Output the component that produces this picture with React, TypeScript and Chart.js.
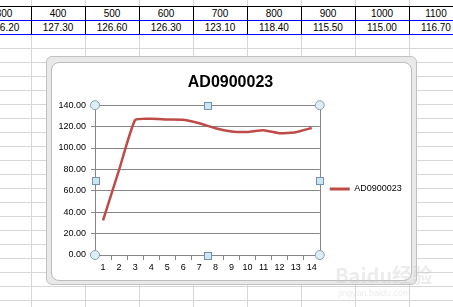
import React, { useEffect, useRef } from "react";
import { Chart, registerables } from "chart.js";

Chart.register(...registerables);

// ---- data ----
const categories = ["1", "2", "3", "4", "5", "6", "7", "8", "9", "10", "11", "12", "13", "14"];
const seriesName = "AD0900023";
const seriesValues = [32.4, 79.5, 126.2, 127.3, 126.6, 126.3, 123.1, 118.4, 115.5, 115.0, 116.7, 113.8, 114.7, 118.7];
const yMin = 0;
const yMax = 140;
const yStep = 20;
const sheetHeaders = ["300", "400", "500", "600", "700", "800", "900", "1000", "1100"];
const sheetValues = ["126.20", "127.30", "126.60", "126.30", "123.10", "118.40", "115.50", "115.00", "116.70"];

const LINE_COLOR = "#BE4B48";
const AXIS_GRAY = "#868686";

const handlesPlugin = {
  id: "selectionHandles",
  afterDraw(chart: any) {
    const { ctx, chartArea: a } = chart;
    ctx.save();
    ctx.strokeStyle = AXIS_GRAY;
    ctx.lineWidth = 1;
    const rx = Math.round(a.right) + 0.5;
    ctx.beginPath();
    ctx.moveTo(rx, a.top);
    ctx.lineTo(rx, a.bottom);
    ctx.stroke();
    const mx = (a.left + a.right) / 2;
    const my = (a.top + a.bottom) / 2;
    const circles = [
      [a.left, a.top],
      [a.right, a.top],
      [a.left, a.bottom],
      [a.right, a.bottom],
    ];
    circles.forEach(([x, y]) => {
      ctx.beginPath();
      ctx.arc(x, y, 4.5, 0, Math.PI * 2);
      ctx.fillStyle = "#DCEFF3";
      ctx.fill();
      ctx.strokeStyle = "#8A9FAE";
      ctx.stroke();
    });
    const squares = [
      [mx, a.top],
      [mx, a.bottom],
      [a.left, my],
      [a.right, my],
    ];
    squares.forEach(([x, y]) => {
      const s = 7;
      const x0 = Math.round(x - s / 2) + 0.5;
      const y0 = Math.round(y - s / 2) + 0.5;
      ctx.fillStyle = "#CDE4F2";
      ctx.fillRect(x0, y0, s, s);
      ctx.strokeStyle = "#6F93B6";
      ctx.strokeRect(x0, y0, s, s);
    });
    ctx.restore();
  },
};

function ChartCanvas() {
  const ref = useRef<HTMLCanvasElement | null>(null);
  useEffect(() => {
    if (!ref.current) return;
    const chart = new Chart(ref.current, {
      type: "line",
      data: {
        labels: categories,
        datasets: [
          {
            label: seriesName,
            data: seriesValues,
            borderColor: LINE_COLOR,
            backgroundColor: LINE_COLOR,
            borderWidth: 2.5,
            pointRadius: 0,
            tension: 0.15,
            fill: false,
          },
        ],
      },
      options: {
        animation: false,
        responsive: false,
        devicePixelRatio: 1,
        layout: { padding: { left: 0, right: 2, top: 0, bottom: 0 } },
        plugins: {
          title: {
            display: true,
            text: seriesName,
            color: "#000",
            font: { family: "'Liberation Sans', Arial, sans-serif", size: 16, weight: "bold" },
            padding: { top: 10, bottom: 13 },
          },
          legend: {
            position: "right",
            title: {
              display: true,
              text: " ",
              font: { size: 9 },
              padding: { top: 0, bottom: 24 },
            },
            labels: {
              boxWidth: 20,
              boxHeight: 3,
              padding: 10,
              color: "#000",
              font: { family: "'Liberation Sans', Arial, sans-serif", size: 9 },
              generateLabels: (c: any) =>
                c.data.datasets.map((d: any, i: number) => ({
                  text: d.label,
                  fillStyle: d.borderColor,
                  strokeStyle: d.borderColor,
                  fontColor: "#000",
                  lineWidth: 0,
                  datasetIndex: i,
                  hidden: false,
                })),
            },
          },
          tooltip: { enabled: false },
        },
        scales: {
          x: {
            offset: true,
            grid: {
              offset: true,
              drawOnChartArea: false,
              drawTicks: true,
              tickLength: 5,
              color: AXIS_GRAY,
            },
            border: { color: AXIS_GRAY, width: 1 },
            ticks: {
              color: "#000",
              padding: 2,
              maxRotation: 0,
              autoSkip: false,
              font: { family: "'Liberation Sans', Arial, sans-serif", size: 9 },
            },
            afterFit: (s: any) => {
              s.height = 25;
            },
          },
          y: {
            min: yMin,
            max: yMax,
            grid: {
              color: AXIS_GRAY,
              drawTicks: true,
              tickLength: 4,
            },
            border: { color: AXIS_GRAY, width: 1 },
            ticks: {
              stepSize: yStep,
              color: "#000",
              padding: 5,
              font: { family: "'Liberation Sans', Arial, sans-serif", size: 9 },
              callback: (v: any) => Number(v).toFixed(2),
            },
            afterFit: (s: any) => {
              s.width = 43;
            },
          },
        },
      },
      plugins: [handlesPlugin],
    } as any);
    return () => chart.destroy();
  }, []);
  return (
    <canvas
      ref={ref}
      width={359}
      height={217}
      style={{ position: "absolute", left: 52, top: 63, width: 359, height: 217 }}
    />
  );
}

export default function App() {
  const colLines: number[] = [];
  for (let k = 0; k < 8; k++) colLines.push(Math.round(31.2 + 54 * k));
  const rowLines: number[] = [];
  for (let y = 6; y <= 306; y += 14) rowLines.push(y);
  const cellFont = "'Liberation Sans', Arial, sans-serif";
  return (
    <div
      style={{
        position: "fixed",
        left: 0,
        top: 0,
        width: 453,
        height: 307,
        overflow: "hidden",
        background: "#fff",
        fontFamily: cellFont,
      }}
    >
      {rowLines.map((y) => (
        <div key={"r" + y} style={{ position: "absolute", left: 0, top: y, width: 453, height: 1, background: "#D6D6D6" }} />
      ))}
      {colLines.map((x) => (
        <div key={"c" + x} style={{ position: "absolute", left: x, top: 0, width: 1, height: 307, background: "#D6D6D6" }} />
      ))}
      {/* bordered table rows */}
      <div style={{ position: "absolute", left: 0, top: 6, width: 453, height: 1, background: "#000" }} />
      <div style={{ position: "absolute", left: 0, top: 20, width: 453, height: 1, background: "#0000FF" }} />
      <div style={{ position: "absolute", left: 0, top: 34, width: 453, height: 1, background: "#0000FF" }} />
      {colLines.map((x) => (
        <div key={"cb" + x} style={{ position: "absolute", left: x, top: 6, width: 1, height: 28, background: "#000" }} />
      ))}
      {sheetHeaders.map((t, i) => (
        <div
          key={"h" + i}
          style={{
            position: "absolute",
            left: Math.round(31.2 + 54 * (i - 1)),
            top: 7,
            width: 54,
            height: 13,
            lineHeight: "13px",
            fontSize: 10,
            textAlign: "center",
            color: "#000",
          }}
        >
          {t}
        </div>
      ))}
      {sheetValues.map((t, i) => (
        <div
          key={"v" + i}
          style={{
            position: "absolute",
            left: Math.round(31.2 + 54 * (i - 1)),
            top: 21,
            width: 54,
            height: 13,
            lineHeight: "13px",
            fontSize: 10,
            textAlign: "center",
            color: "#000",
          }}
        >
          {t}
        </div>
      ))}
      {/* chart frame */}
      <div
        style={{
          position: "absolute",
          left: 46,
          top: 56,
          width: 371,
          height: 229,
          boxSizing: "border-box",
          background: "#E9E9E9",
          border: "1px solid #C2C2C2",
          borderRadius: 6,
        }}
      />
      <div
        style={{
          position: "absolute",
          left: 51,
          top: 62,
          width: 361,
          height: 219,
          boxSizing: "border-box",
          background: "#fff",
          border: "1px solid #BDBDBD",
          borderRadius: 8,
        }}
      />
      <ChartCanvas />
      {/* watermark */}
      <div
        style={{
          position: "absolute",
          left: 335,
          top: 260,
          fontSize: 20,
          fontWeight: "bold",
          color: "rgba(200,200,200,0.35)",
          fontFamily: "'Noto Sans CJK SC', sans-serif",
          whiteSpace: "nowrap",
        }}
      >
        Baidu经验
      </div>
      <div
        style={{
          position: "absolute",
          left: 338,
          top: 288,
          fontSize: 9,
          color: "rgba(200,200,200,0.35)",
          whiteSpace: "nowrap",
        }}
      >
        jingyan.baidu.com
      </div>
    </div>
  );
}
